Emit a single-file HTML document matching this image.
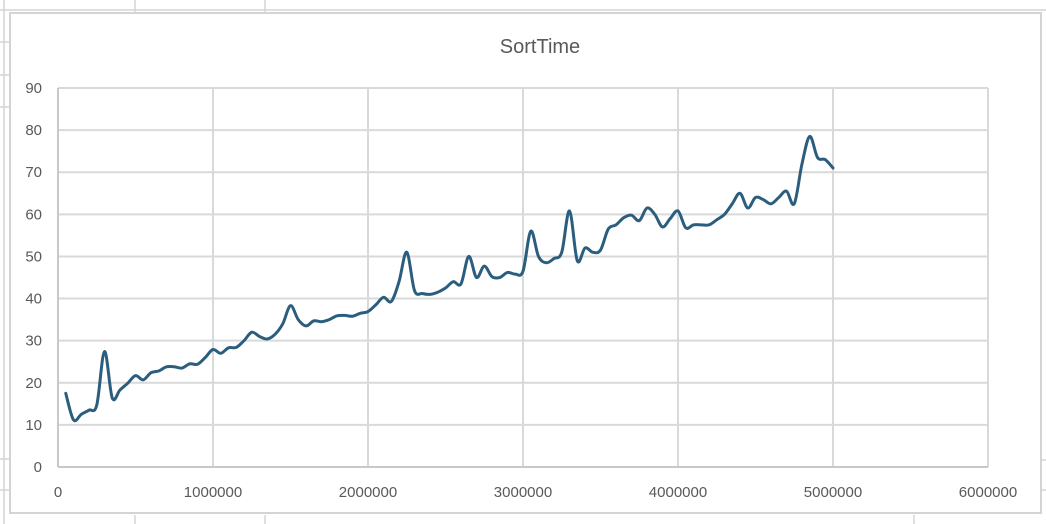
<!DOCTYPE html>
<html><head><meta charset="utf-8"><style>
html,body{margin:0;padding:0;background:#fff;width:1046px;height:524px;overflow:hidden;font-family:"Liberation Sans",sans-serif}
</style></head><body>
<svg id="c" width="1046" height="524">
<g stroke="#d4d4d4" stroke-width="1.5">
<line x1="4" y1="0" x2="4" y2="524"/><line x1="0" y1="10" x2="1046" y2="10"/>
<line x1="135" y1="0" x2="135" y2="12"/><line x1="265" y1="0" x2="265" y2="12"/>
<line x1="135" y1="515" x2="135" y2="524"/><line x1="265" y1="515" x2="265" y2="524"/><line x1="914" y1="515" x2="914" y2="524"/>
<line x1="0" y1="42" x2="9" y2="42"/><line x1="0" y1="75" x2="9" y2="75"/><line x1="0" y1="107" x2="9" y2="107"/><line x1="0" y1="459" x2="9" y2="459"/><line x1="0" y1="490" x2="9" y2="490"/>
<line x1="1042" y1="460" x2="1046" y2="460"/><line x1="1042" y1="490" x2="1046" y2="490"/>
</g>
<rect x="10" y="13" width="1031" height="500" fill="#fff" stroke="#d4d4d4" stroke-width="2"/>
<text x="540" y="53" text-anchor="middle" font-size="20" fill="#595959">SortTime</text>
<g id="grid"></g><g id="ticks"></g><g id="series"></g>
</svg>
<script>
const xTicks=[0,1000000,2000000,3000000,4000000,5000000,6000000];
const yTicks=[0,10,20,30,40,50,60,70,80,90];
const xValues=[];for(let i=1;i<=100;i++)xValues.push(i*50000);
const sortTime=[17.5,11.2,12.5,13.5,14.7,27.4,16.4,18.3,19.9,21.7,20.7,22.4,22.8,23.8,23.8,23.5,24.5,24.4,26,27.9,27,28.3,28.4,30,32,31,30.4,31.5,34,38.3,35,33.5,34.7,34.5,35,35.9,36,35.8,36.5,36.9,38.5,40.3,39.3,44,51,41.9,41.2,41,41.5,42.5,44,43.5,50,45,47.7,45.2,45,46.2,45.8,46.5,56,50,48.5,49.5,51,60.8,49,52,51,51.5,56.5,57.5,59.2,59.8,58.5,61.5,60,57,59,60.8,56.8,57.5,57.5,57.5,58.7,60,62.5,65,61.5,64,63.5,62.5,64,65.5,62.5,72,78.5,73.5,73,71];
const X0=58,X1=988,Y0=467,Y1=88;
const sx=v=>X0+(v-0)/6000000*(X1-X0);
const sy=v=>Y0-(v-0)/90*(Y0-Y1);
const NS="http://www.w3.org/2000/svg";
function mk(t,a,p){const e=document.createElementNS(NS,t);for(const k in a)e.setAttribute(k,a[k]);p.appendChild(e);return e;}
const grid=document.getElementById('grid'),ticks=document.getElementById('ticks'),series=document.getElementById('series');
yTicks.forEach(v=>{
 const l=mk('line',{x1:X0,x2:X1,y1:sy(v),y2:sy(v),stroke:'#d9d9d9','stroke-width':2},grid);
 
 
 const t=mk('text',{x:X0-16,y:sy(v)+5,'text-anchor':'end','font-size':15,fill:'#595959'},ticks);
 t.textContent=v;
 
 
});
xTicks.forEach(v=>{
 const l=mk('line',{x1:sx(v),x2:sx(v),y1:Y1,y2:Y0,stroke:'#d9d9d9','stroke-width':2},grid);
 
 
 const t=mk('text',{x:sx(v),y:Y0+30,'text-anchor':'middle','font-size':15,fill:'#595959'},ticks);
 t.textContent=v;
 
 
});
const ax=mk('line',{x1:X0,x2:X0,y1:Y1,y2:Y0,stroke:'#c8c8c8','stroke-width':2},grid);


const bx=mk('line',{x1:X0,x2:X1,y1:Y0,y2:Y0,stroke:'#c8c8c8','stroke-width':2},grid);


const pts=xValues.map((x,i)=>[sx(x),sy(sortTime[i])]);
let d='M'+pts[0][0]+','+pts[0][1];
for(let i=0;i<pts.length-1;i++){
 const p0=pts[Math.max(0,i-1)],p1=pts[i],p2=pts[i+1],p3=pts[Math.min(pts.length-1,i+2)];
 const c1=[p1[0]+(p2[0]-p0[0])/6,p1[1]+(p2[1]-p0[1])/6],c2=[p2[0]-(p3[0]-p1[0])/6,p2[1]-(p3[1]-p1[1])/6];
 d+=' C'+c1+' '+c2+' '+p2;
}
const path=mk('path',{d:d,fill:'none',stroke:'#2b5e7e','stroke-width':3,'stroke-linejoin':'round','stroke-linecap':'round'},series);


</script>
</body></html>
